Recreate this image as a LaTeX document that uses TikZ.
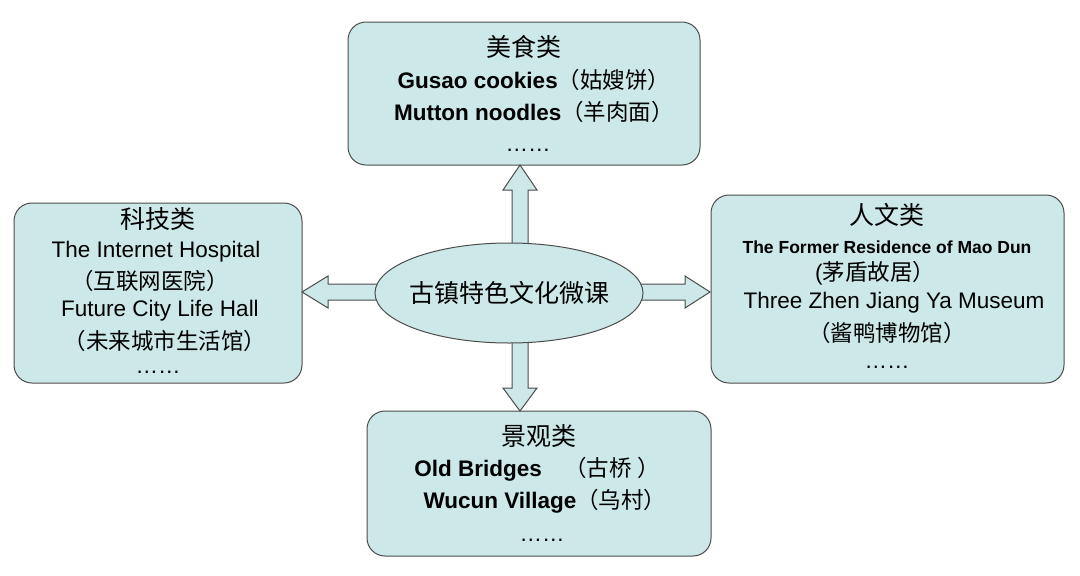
\documentclass[tikz,border=0pt]{standalone}
\usepackage{fontspec}
\usetikzlibrary{shapes.geometric}
\setmainfont{Liberation Sans}
\newfontfamily\cjk{Noto Sans CJK SC}
\begin{document}
\begin{tikzpicture}[x=1pt,y=-1pt,
  box/.style={draw=black!70,line width=1pt,fill=boxc,rounded corners=18pt},
  arr/.style={draw=black!70,line width=1pt,fill=boxc},
  t/.style={inner sep=0pt,font=\fontsize{22.5}{26}\selectfont},
  h/.style={inner sep=0pt,font=\fontsize{25}{28}\selectfont},
  tb/.style={inner sep=0pt,font=\fontsize{22.5}{26}\selectfont\bfseries}]
\definecolor{boxc}{HTML}{CDE8E8}
\useasboundingbox (0,0) rectangle (1080,576);
\fill[white] (0,0) rectangle (1080,576);
\draw[box] (348,22) rectangle (700,165);
\draw[box] (14,203) rectangle (302,383);
\draw[box] (711,195) rectangle (1064,383);
\draw[box] (367,411) rectangle (711,556);
% arrows
\draw[arr] (512,250) -- (512,190) -- (503,190) -- (520,165) -- (537,190) -- (528,190) -- (528,250) -- cycle;
\draw[arr] (512,335) -- (512,388) -- (503,388) -- (520,411) -- (537,388) -- (528,388) -- (528,335) -- cycle;
\draw[arr] (385,284) -- (328,284) -- (328,276) -- (302,292) -- (328,308) -- (328,300) -- (385,300) -- cycle;
\draw[arr] (630,284) -- (685,284) -- (685,276) -- (710,292) -- (685,308) -- (685,300) -- (630,300) -- cycle;
\node[draw=black!70,line width=1pt,fill=boxc,ellipse,minimum width=268pt,minimum height=100pt,inner sep=0pt] (c) at (509,293) {};
\node[h] (ct) at (509,293) {\cjk 古镇特色文化微课};
% top
\node[h] (a1) at (524,47) {\cjk 美食类};
\node[tb] (a2) at (534,80) {Gusao cookies{\mdseries\cjk （姑嫂饼）}};
\node[tb] (a3) at (534,112) {Mutton noodles{\mdseries\cjk （羊肉面）}};
\node[t] (a4) at (528,150) {……};
% left
\node[h] (b1) at (158,219) {\cjk 科技类};
\node[t] (b2) at (156,252) {The Internet Hospital};
\node[t] (b3) at (150,281) {\cjk （互联网医院）};
\node[t] (b4) at (160,311) {Future City Life Hall};
\node[t] (b5) at (165,341) {\cjk （未来城市生活馆）};
\node[t] (b6) at (158,372) {……};
% right
\node[h] (d1) at (887,215) {\cjk 人文类};
\node[t,font=\fontsize{17.5}{20}\selectfont\bfseries] (d2) at (887,247) {The Former Residence of Mao Dun};
\node[t] (d3) at (875,273) {({\cjk 茅盾故居）}};
\node[t] (d4) at (894,303) {Three Zhen Jiang Ya Museum};
\node[t] (d5) at (887,333) {\cjk （酱鸭博物馆）};
\node[t] (d6) at (887,367) {……};
% bottom
\node[h] (e1) at (539,436) {\cjk 景观类};
\node[tb] (e2) at (537,469) {Old Bridges\quad{\mdseries\cjk （古桥 ）}};
\node[tb] (e3) at (545,501) {Wucun Village{\mdseries\cjk （乌村）}};
\node[t] (e4) at (542,540) {……};
\end{tikzpicture}
\end{document}
